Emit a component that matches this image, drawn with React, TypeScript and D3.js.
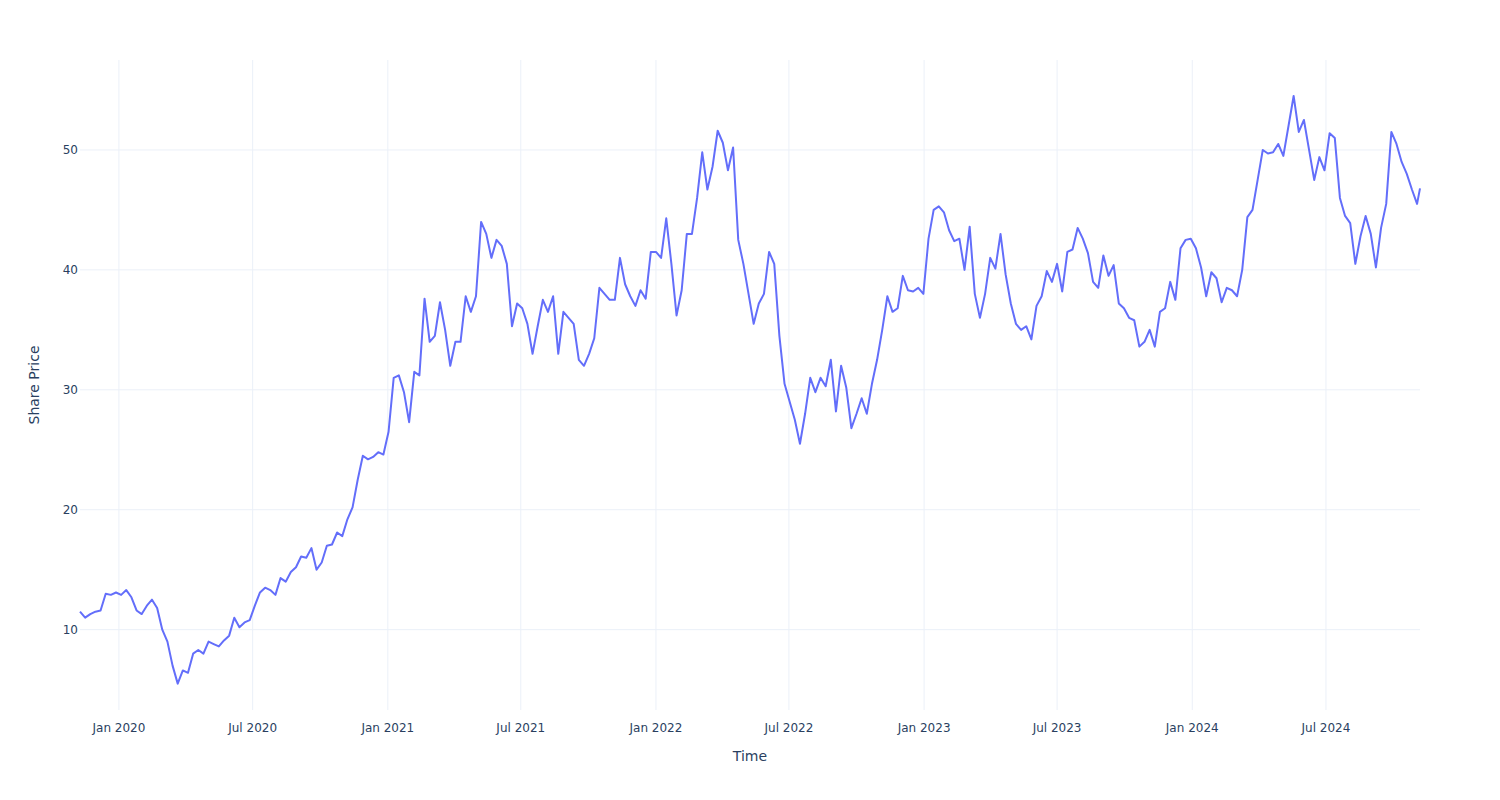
import React from "react";
import * as d3 from "d3";

// Weekly closing share prices
const startDate = "2019-11-09";
const endDate = "2024-11-06";
const prices: number[] = [
  11.5, 11.0, 11.3, 11.5, 11.6, 13.0, 12.9, 13.1, 12.9, 13.3,
  12.7, 11.6, 11.3, 12.0, 12.5, 11.8, 10.0, 9.0, 7.0, 5.5,
  6.6, 6.4, 8.0, 8.3, 8.0, 9.0, 8.8, 8.6, 9.1, 9.5,
  11.0, 10.2, 10.6, 10.8, 12.0, 13.1, 13.5, 13.3, 12.9, 14.3,
  14.0, 14.8, 15.2, 16.1, 16.0, 16.8, 15.0, 15.6, 17.0, 17.1,
  18.1, 17.8, 19.2, 20.2, 22.5, 24.5, 24.2, 24.4, 24.8, 24.6,
  26.5, 31.0, 31.2, 29.8, 27.3, 31.5, 31.2, 37.6, 34.0, 34.5,
  37.3, 35.0, 32.0, 34.0, 34.0, 37.8, 36.5, 37.8, 44.0, 43.0,
  41.0, 42.5, 42.0, 40.5, 35.3, 37.2, 36.8, 35.5, 33.0, 35.3,
  37.5, 36.5, 37.8, 33.0, 36.5, 36.0, 35.5, 32.5, 32.0, 33.0,
  34.3, 38.5, 38.0, 37.5, 37.5, 41.0, 38.8, 37.8, 37.0, 38.3,
  37.6, 41.5, 41.5, 41.0, 44.3, 40.5, 36.2, 38.3, 43.0, 43.0,
  46.0, 49.8, 46.7, 48.6, 51.6, 50.6, 48.3, 50.2, 42.5, 40.5,
  38.0, 35.5, 37.2, 38.0, 41.5, 40.5, 34.5, 30.5, 29.0, 27.5,
  25.5, 28.0, 31.0, 29.8, 31.0, 30.3, 32.5, 28.2, 32.0, 30.2,
  26.8, 28.0, 29.3, 28.0, 30.5, 32.5, 35.0, 37.8, 36.5, 36.8,
  39.5, 38.3, 38.2, 38.5, 38.0, 42.6, 45.0, 45.3, 44.8, 43.3,
  42.4, 42.6, 40.0, 43.6, 38.0, 36.0, 38.0, 41.0, 40.1, 43.0,
  39.6, 37.2, 35.5, 35.0, 35.3, 34.2, 37.0, 37.8, 39.9, 39.0,
  40.5, 38.2, 41.5, 41.7, 43.5, 42.6, 41.4, 39.0, 38.5, 41.2,
  39.5, 40.4, 37.2, 36.8, 36.0, 35.8, 33.6, 34.0, 35.0, 33.6,
  36.5, 36.8, 39.0, 37.5, 41.8, 42.5, 42.6, 41.8, 40.2, 37.8,
  39.8, 39.3, 37.3, 38.5, 38.3, 37.8, 40.0, 44.4, 45.0, 47.5,
  50.0, 49.7, 49.8, 50.5, 49.5, 52.0, 54.5, 51.5, 52.5, 50.0,
  47.5, 49.4, 48.3, 51.4, 51.0, 46.0, 44.5, 43.9, 40.5, 42.8,
  44.5, 43.0, 40.2, 43.5, 45.5, 51.5, 50.5, 49.0, 48.0, 46.7,
  45.5, 46.8,
];
const yTicks = [10, 20, 30, 40, 50];
const xTitle = "Time";
const yTitle = "Share Price";

const W = 1500;
const H = 800;
const M = { left: 80, right: 80, top: 60, bottom: 90 };
const FONT = "'DejaVu Sans', Verdana, sans-serif";
const TEXT = "#2a3f5f";
const GRID = "#EBF0F8";
const LINE = "#636efa";

export default function App() {
  const parse = d3.utcParse("%Y-%m-%d");
  const start = parse(startDate)!;
  const end = parse(endDate)!;
  const data = prices.map((v, i) => ({
    date: i < prices.length - 1 ? d3.utcDay.offset(start, i * 7) : end,
    value: v,
  }));

  const x = d3
    .scaleUtc()
    .domain(d3.extent(data, (d) => d.date) as [Date, Date])
    .range([M.left, W - M.right]);
  const y = d3.scaleLinear().domain([3.3, 57.5]).range([H - M.bottom, M.top]);

  const xTicks = d3.utcMonth.every(6)!.range(x.domain()[0], x.domain()[1]);
  const fmt = d3.utcFormat("%b %Y");

  const line = d3
    .line<{ date: Date; value: number }>()
    .x((d) => x(d.date))
    .y((d) => y(d.value));

  return (
    <svg
      width={W}
      height={H}
      style={{ position: "absolute", left: 0, top: 0, background: "#fff" }}
    >
      {xTicks.map((t, i) => (
        <line
          key={"gx" + i}
          x1={x(t)}
          x2={x(t)}
          y1={M.top}
          y2={H - M.bottom}
          stroke={GRID}
          strokeWidth={1}
        />
      ))}
      {yTicks.map((t, i) => (
        <line
          key={"gy" + i}
          x1={M.left}
          x2={W - M.right}
          y1={y(t)}
          y2={y(t)}
          stroke={GRID}
          strokeWidth={1}
        />
      ))}
      <path
        d={line(data) || ""}
        fill="none"
        stroke={LINE}
        strokeWidth={2}
        strokeLinejoin="round"
      />
      {xTicks.map((t, i) => (
        <text
          key={"tx" + i}
          x={x(t)}
          y={732}
          textAnchor="middle"
          fontFamily={FONT}
          fontSize={12}
          fill={TEXT}
        >
          {fmt(t)}
        </text>
      ))}
      {yTicks.map((t, i) => (
        <text
          key={"ty" + i}
          x={78}
          y={y(t) + 4}
          textAnchor="end"
          fontFamily={FONT}
          fontSize={12}
          fill={TEXT}
        >
          {t}
        </text>
      ))}
      <text
        x={(M.left + W - M.right) / 2}
        y={761}
        textAnchor="middle"
        fontFamily={FONT}
        fontSize={14}
        fill={TEXT}
      >
        {xTitle}
      </text>
      <text
        transform={`translate(39, ${(M.top + H - M.bottom) / 2}) rotate(-90)`}
        textAnchor="middle"
        fontFamily={FONT}
        fontSize={14}
        fill={TEXT}
      >
        {yTitle}
      </text>
    </svg>
  );
}
